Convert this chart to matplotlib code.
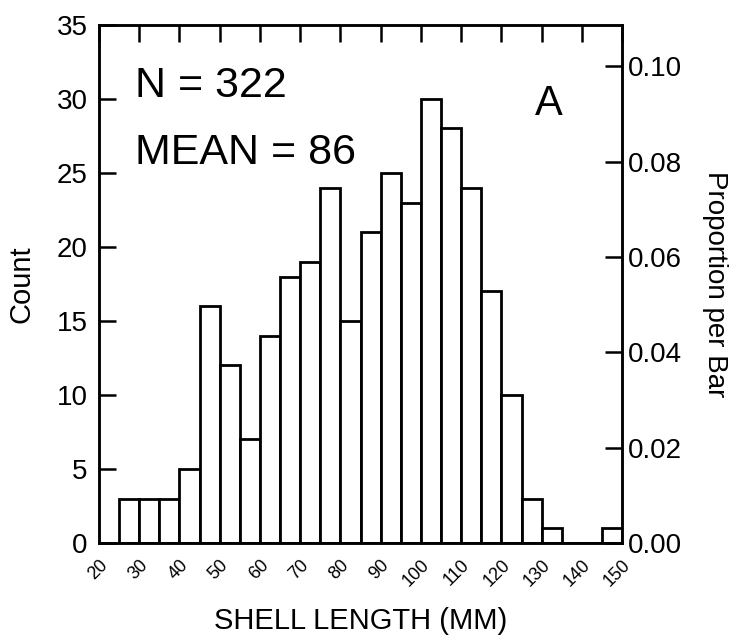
import numpy as np
import matplotlib.pyplot as plt

plt.rcParams['font.family'] = ['Liberation Sans', 'DejaVu Sans']

# histogram bins (left edges, width 5 mm) and counts
bin_left = [25, 30, 35, 40, 45, 50, 55, 60, 65, 70, 75, 80, 85, 90, 95,
            100, 105, 110, 115, 120, 125, 130, 135, 140, 145]
counts = [3, 3, 3, 5, 16, 12, 7, 14, 18, 19, 24, 15, 21, 25, 23,
          30, 28, 24, 17, 10, 3, 1, 0, 0, 1]
bin_width = 5
n_total = 322
x_ticks = list(range(20, 151, 10))
y_ticks = [0, 5, 10, 15, 20, 25, 30, 35]
prop_ticks = [0.00, 0.02, 0.04, 0.06, 0.08, 0.10]

fig = plt.figure(figsize=(7.38, 6.38), dpi=100)
ax = fig.add_axes([0.134, 0.149, 0.709, 0.812])

ax.bar(bin_left, counts, width=bin_width, align='edge',
       facecolor='white', edgecolor='black', linewidth=2.0)

ax.set_xlim(20, 150)
ax.set_ylim(0, 35)
ax.set_yticks(y_ticks)
ax.set_xticks(x_ticks)
ax.set_xticklabels([str(t) for t in x_ticks], rotation=45, ha='right',
                   va='top', fontsize=13, rotation_mode='anchor')
ax.tick_params(axis='x', bottom=False, top=True, direction='in', length=12,
               width=1.8, pad=10)
ax.tick_params(axis='y', direction='in', length=12, width=1.8,
               labelsize=20, pad=8)
for s in ax.spines.values():
    s.set_linewidth(1.8)

ax.set_ylabel('Count', fontsize=21, labelpad=15)
ax.set_xlabel('SHELL LENGTH (MM)', fontsize=21, labelpad=12)

ax2 = ax.twinx()
ax2.set_ylim(0, 35 / n_total)
ax2.set_yticks(prop_ticks)
ax2.set_yticklabels([f'{p:.2f}' for p in prop_ticks])
ax2.tick_params(axis='y', direction='in', length=12, width=1.8,
                labelsize=20, pad=4)
ax2.set_ylabel('Proportion per Bar', fontsize=20, rotation=270, labelpad=33)
for s in ax2.spines.values():
    s.set_linewidth(1.8)

ax.text(0.069, 0.882, f'N = {n_total}', transform=ax.transAxes,
        fontsize=31, va='center', ha='left')
ax.text(0.069, 0.753, 'MEAN = 86', transform=ax.transAxes,
        fontsize=31, va='center', ha='left')
ax.text(0.859, 0.847, 'A', transform=ax.transAxes,
        fontsize=30, va='center', ha='center')

fig.savefig('out.png', dpi=100)
